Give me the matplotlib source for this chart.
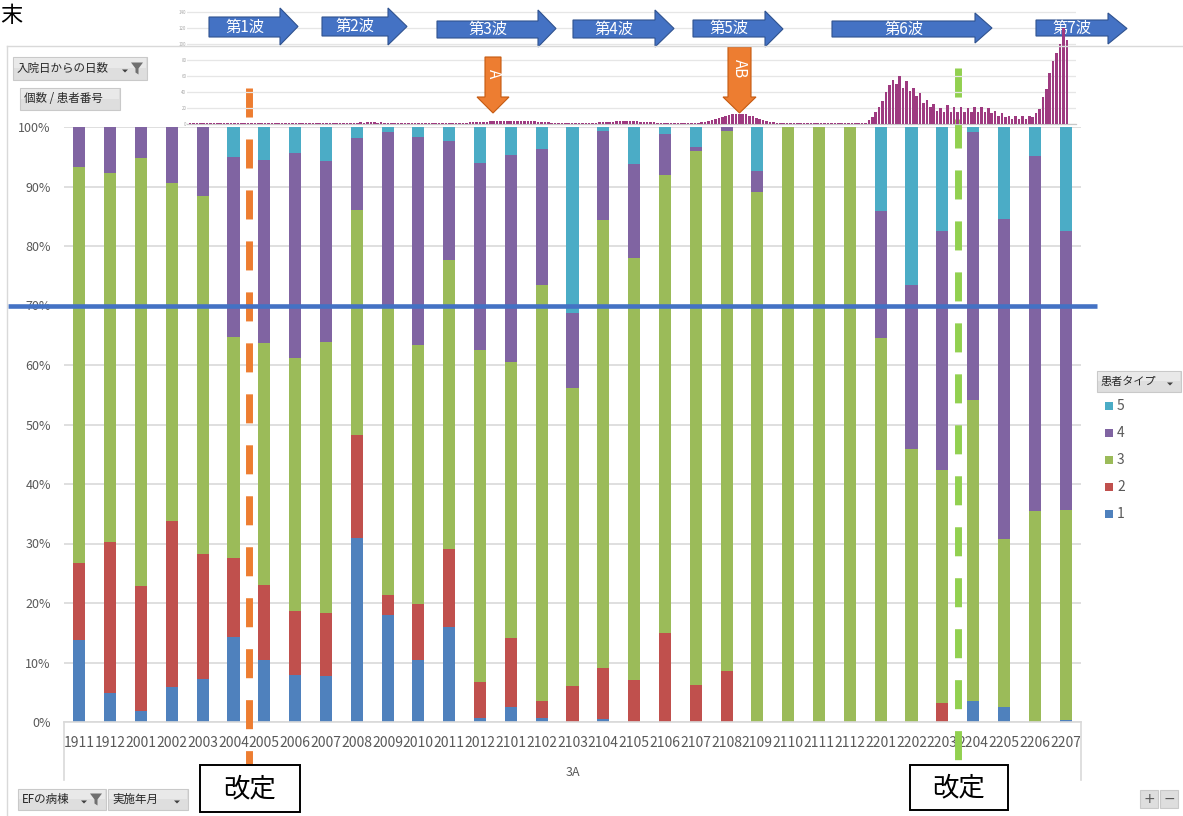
import numpy as np
import matplotlib
matplotlib.use("Agg")
import matplotlib.pyplot as plt
from matplotlib.patches import Rectangle, Polygon

plt.rcParams["font.family"] = ["Noto Sans CJK JP", "DejaVu Sans"]
plt.rcParams["lines.scale_dashes"] = False

W, H, DPI = 1183, 816, 100

# ---- monthly share of patient types (percent) ----
months = ["1911", "1912", "2001", "2002", "2003", "2004", "2005", "2006", "2007",
          "2008", "2009", "2010", "2011", "2012", "2101", "2102", "2103", "2104",
          "2105", "2106", "2107", "2108", "2109", "2110", "2111", "2112", "2201",
          "2202", "2203", "2204", "2205", "2206", "2207"]
patient_types = ["1", "2", "3", "4", "5"]
type1 = [13.7, 4.9, 1.9, 5.9, 7.2, 14.3, 10.4, 7.9, 7.7, 31.0, 18.0, 10.5, 16.0,
         0.7, 2.6, 0.7, 0, 0.5, 0, 0, 0, 0, 0, 0, 0, 0, 0, 0, 0, 3.5, 2.5, 0, 0.3]
type2 = [13.1, 25.4, 20.9, 27.8, 21.1, 13.2, 12.7, 10.7, 10.7, 17.3, 3.3, 9.3, 13.1,
         6.1, 11.6, 2.8, 6.0, 8.6, 7.1, 15.0, 6.2, 8.6, 0, 0, 0, 0, 0, 0, 3.2, 0, 0, 0, 0]
type3 = [66.5, 62.0, 72.0, 56.9, 60.1, 37.2, 40.6, 42.6, 45.5, 37.7, 48.4, 43.6, 48.5,
         55.8, 46.3, 69.9, 50.2, 75.2, 70.8, 76.9, 89.8, 90.7, 89.0, 100, 100, 100,
         64.6, 45.9, 39.2, 50.7, 28.2, 35.4, 35.4]
type4 = [6.7, 7.7, 5.2, 9.4, 11.6, 30.2, 30.7, 34.4, 30.4, 12.2, 29.5, 35.0, 20.1,
         31.3, 34.8, 22.9, 12.6, 15.0, 15.8, 7.0, 0.7, 0.7, 3.6, 0, 0, 0,
         21.2, 27.6, 40.2, 45.0, 53.8, 59.7, 46.8]
type5 = [0, 0, 0, 0, 0, 5.1, 5.6, 4.4, 5.7, 1.8, 0.8, 1.6, 2.3, 6.1, 4.7, 3.7, 31.2,
         0.7, 6.3, 1.1, 3.3, 0, 7.4, 0, 0, 0, 14.2, 26.5, 17.4, 0.8, 15.5, 4.9, 17.5]
type_colors = ["#4F81BD", "#C0504D", "#9BBB59", "#8064A2", "#4BACC6"]

threshold = 70
revision_positions = [5.5, 28.5]
revision_colors = ["#ED7D31", "#92D050"]

# ---- infection waves: half-weekly counts for the small top chart ----
wave_labels = ["第1波", "第2波", "第3波", "第4波", "第5波", "第6波", "第7波"]
wave_counts = [
    0.4, 0.3, 0.4, 0.5, 0.4, 0.3, 0.4, 0.4, 0.5, 0.4, 0.3, 0.4, 0.5, 0.4,
    0.8, 1.0, 1.1, 0.9, 1.0, 0.8, 0.6,
    0.5, 0.4, 0.5, 0.4, 0.3, 0.4, 0.5, 0.4, 0.4, 0.3, 0.4, 0.5, 0.4, 0.3, 0.4,
    0.4, 0.5, 0.4, 0.3, 0.4, 0.5, 0.6, 0.5, 0.4, 0.5, 0.6, 0.7,
    0.9, 1.1, 1.3, 1.2, 1.4, 1.3, 1.5, 1.2, 1.3, 1.1, 1.0, 0.9, 0.8,
    0.7, 0.6, 0.7, 0.6, 0.5, 0.6, 0.7, 0.6, 0.5, 0.6, 0.7, 0.8, 0.7, 0.6, 0.7,
    0.8, 0.9, 0.8, 0.9, 1.0, 1.1,
    # third wave
    1.3, 1.5, 1.6, 1.9, 2.1, 2.4, 2.6, 2.9, 3.1, 3.0, 3.4, 3.3, 3.6, 3.5, 3.7,
    3.4, 3.6, 3.2, 3.0, 2.7, 2.4, 2.0, 1.7, 1.4, 1.1, 0.9,
    0.8, 0.7, 0.6, 0.7, 0.6, 0.7, 0.8, 0.7, 0.8, 0.9, 1.0,
    # fourth wave
    1.2, 1.4, 1.7, 1.9, 2.2, 2.4, 2.6, 2.8, 2.9, 2.7, 2.9, 2.8, 2.6, 2.4, 2.1,
    1.8, 1.5, 1.3, 1.1, 0.9,
    0.8, 0.7, 0.6, 0.6, 0.5, 0.6, 0.5, 0.6, 0.7, 0.8, 1.0, 1.3, 1.7,
    # fifth wave
    3.1, 4.4, 5.6, 6.9, 8.1, 9.4, 10.6, 11.3, 11.9, 12.5, 11.9, 11.3, 10.0, 8.8,
    7.5, 5.6, 4.4, 3.1, 2.3,
    1.6, 1.2, 1.0, 0.8, 0.7, 0.6, 0.5, 0.5, 0.4, 0.5, 0.4, 0.4, 0.5, 0.4, 0.4,
    0.5, 0.4, 0.5, 0.4, 0.4, 0.5, 0.4, 0.5, 0.6, 0.5, 0.6, 0.8,
    # sixth wave
    1, 4, 8, 15, 21, 28, 40, 48, 55, 50, 59, 45, 53, 41, 45, 34, 38, 26, 30, 21,
    24, 16, 20, 15, 23, 15, 21, 14, 21, 14, 20, 15, 21, 14, 21, 15, 20, 13, 16,
    10, 13, 8, 10, 6, 9, 6, 9, 6, 9, 8,
    # seventh wave
    13, 18, 33, 43, 63, 78, 88, 100, 120, 105,
]
wave_color = "#9E3A80"

fig = plt.figure(figsize=(W / DPI, H / DPI), dpi=DPI)


def fbox(x, y, w, h):
    """Pixel box with top-left origin -> figure fraction rectangle."""
    return [x / W, 1 - (y + h) / H, w / W, h / H]


# ---------------- main stacked percentage chart ----------------
ax = fig.add_axes(fbox(64, 127, 1017, 595), zorder=1)
ax.patch.set_alpha(0)
xs = np.arange(len(months))
bottom = np.zeros(len(months))
for vals, col in zip([type1, type2, type3, type4, type5], type_colors):
    ax.bar(xs, vals, 0.39, bottom=bottom, color=col, linewidth=0, zorder=2)
    bottom += np.array(vals)
ax.set_xlim(-0.5, len(months) - 0.5)
ax.set_ylim(0, 100)
ax.set_yticks(np.arange(0, 101, 10))
ax.set_yticklabels([f"{v}%" for v in range(0, 101, 10)])
ax.set_xticks(xs)
ax.set_xticklabels(months)
ax.tick_params(axis="y", length=0, pad=9.5, labelsize=9, labelcolor="#595959")
ax.tick_params(axis="x", length=0, pad=10, labelsize=10, labelcolor="#595959")
ax.grid(axis="y", color="#D9D9D9", lw=1.2)
ax.set_axisbelow(True)
for s in ["top", "right", "left"]:
    ax.spines[s].set_visible(False)
ax.spines["bottom"].set_color("#D9D9D9")
ax.spines["bottom"].set_linewidth(1.2)

# category group box and label
for xa in (0, 1):
    ax.plot([xa, xa], [0, -58 / 595], transform=ax.transAxes, color="#D9D9D9",
            lw=1.2, clip_on=False)
ax.text(0.5, -50 / 595, "3A", transform=ax.transAxes, ha="center", va="center",
        fontsize=9, color="#595959")

# revision markers (dashed verticals)
trans_x = ax.get_xaxis_transform()
ax.plot([revision_positions[0]] * 2, [(722 - 88) / 595, (722 - 765) / 595],
        transform=trans_x, color=revision_colors[0], lw=5.0,
        dashes=(20.9, 15.8), dash_capstyle="butt", clip_on=False, zorder=5)
ax.plot([revision_positions[1]] * 2, [(722 - 68) / 595, (722 - 760) / 595],
        transform=trans_x, color=revision_colors[1], lw=5.0,
        dashes=(20.9, 15.8), dash_capstyle="butt", clip_on=False, zorder=5)

# 70% reference line
ax.plot([(8 - 64) / 1017, (1097 - 64) / 1017], [threshold, threshold],
        transform=ax.get_yaxis_transform(), color="#4472C4", lw=3.3,
        solid_capstyle="butt", clip_on=False, zorder=6)

# ---------------- small wave chart at the top ----------------
inset_rect = fbox(187, 0, 889, 123.5)
n_bins = len(wave_counts)
ax_ig = fig.add_axes(inset_rect, zorder=2)
ax_ig.patch.set_alpha(0)
ax_ig.set_xlim(-0.9, n_bins + 1.7)
ax_ig.set_ylim(0, 154.4)
ax_ig.set_yticks(np.arange(0, 141, 20))
ax_ig.set_xticks([])
ax_ig.tick_params(axis="y", length=0, pad=0.5, labelsize=3.2, labelcolor="#A6A6A6")
ax_ig.grid(axis="y", color="#E6E6E6", lw=0.9)
for s in ["top", "right", "left"]:
    ax_ig.spines[s].set_visible(False)
ax_ig.spines["bottom"].set_color("#C8C8C8")
ax_ig.spines["bottom"].set_linewidth(0.9)

ax_ib = fig.add_axes(inset_rect, zorder=4)
ax_ib.patch.set_alpha(0)
ax_ib.set_xlim(-0.9, n_bins + 1.7)
ax_ib.set_ylim(0, 154.4)
ax_ib.axis("off")
ax_ib.bar(np.arange(n_bins), wave_counts, 0.75, color=wave_color, linewidth=0)

# ---------------- arrows (pixel coordinates) ----------------
arr = fig.add_axes([0, 0, 1, 1], zorder=3)
arr.set_xlim(0, W)
arr.set_ylim(H, 0)
arr.axis("off")
arr.patch.set_alpha(0)

wave_arrows = [  # x0, body end, tip, body top, body bottom, head top, head bottom
    (209, 280, 298, 17, 37, 8, 45),
    (322, 388, 407, 17, 36, 8, 45),
    (437, 538, 556, 21, 38, 10, 47),
    (573, 655, 674, 20, 38, 10, 47),
    (693, 765, 783, 20, 37, 11, 47),
    (832, 975, 992, 21, 37, 13, 43),
    (1036, 1108, 1127, 20, 36, 13, 44),
]
for label, (x0, xb, tip, bt, bb, ht, hb) in zip(wave_labels, wave_arrows):
    mid = (ht + hb) / 2
    pts = [(x0, bt), (xb, bt), (xb, ht), (tip, mid), (xb, hb), (xb, bb), (x0, bb)]
    arr.add_patch(Polygon(pts, closed=True, facecolor="#4472C4",
                          edgecolor="#2F528F", lw=0.8))
    arr.text((x0 + xb) / 2, (bt + bb) / 2, label, color="white", fontsize=11,
             ha="center", va="center")

down_arrows = [  # label, body left, body right, top, shaft bottom, head left, head right, tip
    ("A", 485, 501, 57, 97, 477, 509, 113),
    ("AB", 728, 751, 47, 97, 723, 756, 113),
]
for label, bl, br, top, sb, hl, hr, tipy in down_arrows:
    cx = (hl + hr) / 2
    pts = [(bl, top), (br, top), (br, sb), (hr, sb), (cx, tipy), (hl, sb), (bl, sb)]
    arr.add_patch(Polygon(pts, closed=True, facecolor="#ED7D31",
                          edgecolor="#C55A11", lw=0.8))
    arr.text((bl + br) / 2, (top + sb) / 2 - 3, label, color="white", fontsize=11,
             ha="center", va="center", rotation=270)

# ---------------- overlay: frame, buttons, legend, boxes ----------------
ov = fig.add_axes([0, 0, 1, 1], zorder=5)
ov.set_xlim(0, W)
ov.set_ylim(H, 0)
ov.axis("off")
ov.patch.set_alpha(0)

ov.plot([7, W], [46, 46], color="#D9D9D9", lw=1)
ov.plot([7, 7], [46, H], color="#D9D9D9", lw=1)

ov.text(0, 16, "末", fontsize=16, color="black", ha="left", va="center")


def button(x, y, w, h, text, fs=8.3, dropdown=False, funnel=False):
    ov.add_patch(Rectangle((x, y), w, h, facecolor="#DEDEDE", edgecolor="#C9C9C9",
                           lw=0.8))
    ov.add_patch(Rectangle((x + 1, y + 1), w - 2, h * 0.45, facecolor="#E9E9E9",
                           edgecolor="none"))
    ov.text(x + 4, y + h / 2, text, fontsize=fs, color="#262626", ha="left",
            va="center")
    if dropdown:
        dx = x + w - (22 if funnel else 11)
        ov.add_patch(Polygon([(dx - 3, y + h / 2 + 1), (dx + 3, y + h / 2 + 1),
                              (dx, y + h / 2 + 4)], closed=True,
                             facecolor="#404040", edgecolor="none"))
    if funnel:
        fx0 = x + w - 16
        fy0 = y + h / 2 - 6
        ov.add_patch(Polygon([(fx0, fy0), (fx0 + 12, fy0), (fx0 + 7.5, fy0 + 6),
                              (fx0 + 7.5, fy0 + 12), (fx0 + 4.5, fy0 + 10),
                              (fx0 + 4.5, fy0 + 6)], closed=True,
                             facecolor="#707070", edgecolor="none"))


button(13, 57, 134, 23, "入院日からの日数", dropdown=True, funnel=True)
button(20, 88, 100, 22, "個数 / 患者番号")
button(18, 789, 88, 21, "EFの病棟", dropdown=True, funnel=True)
button(108, 789, 80, 21, "実施年月", dropdown=True)
button(1097, 371, 84, 21, "患者タイプ", fs=8.0, dropdown=True)

# zoom buttons
for bx, sym in ((1140, "+"), (1160, "−")):
    ov.add_patch(Rectangle((bx, 790), 18, 18, facecolor="#DEDEDE",
                           edgecolor="#C9C9C9", lw=0.8))
    ov.text(bx + 9, 799, sym, fontsize=10, color="#595959", ha="center",
            va="center", family=["DejaVu Sans"])

# legend entries (top to bottom: 5..1)
legend_y = [406, 433, 460, 487, 514]
for name, col, ly in zip(patient_types[::-1], type_colors[::-1], legend_y):
    ov.add_patch(Rectangle((1105, ly - 4), 8, 8, facecolor=col, edgecolor="none"))
    ov.text(1117, ly, name, fontsize=10, color="#595959", ha="left", va="center")

# revision boxes
for (bx, by, bw, bh) in ((200, 765, 100, 47), (910, 765, 98, 45)):
    ov.add_patch(Rectangle((bx, by), bw, bh, facecolor="white", edgecolor="black",
                           lw=1.4))
    ov.text(bx + bw / 2, by + bh / 2, "改定", fontsize=19, color="black",
            ha="center", va="center")

fig.savefig("out.png", dpi=DPI)
